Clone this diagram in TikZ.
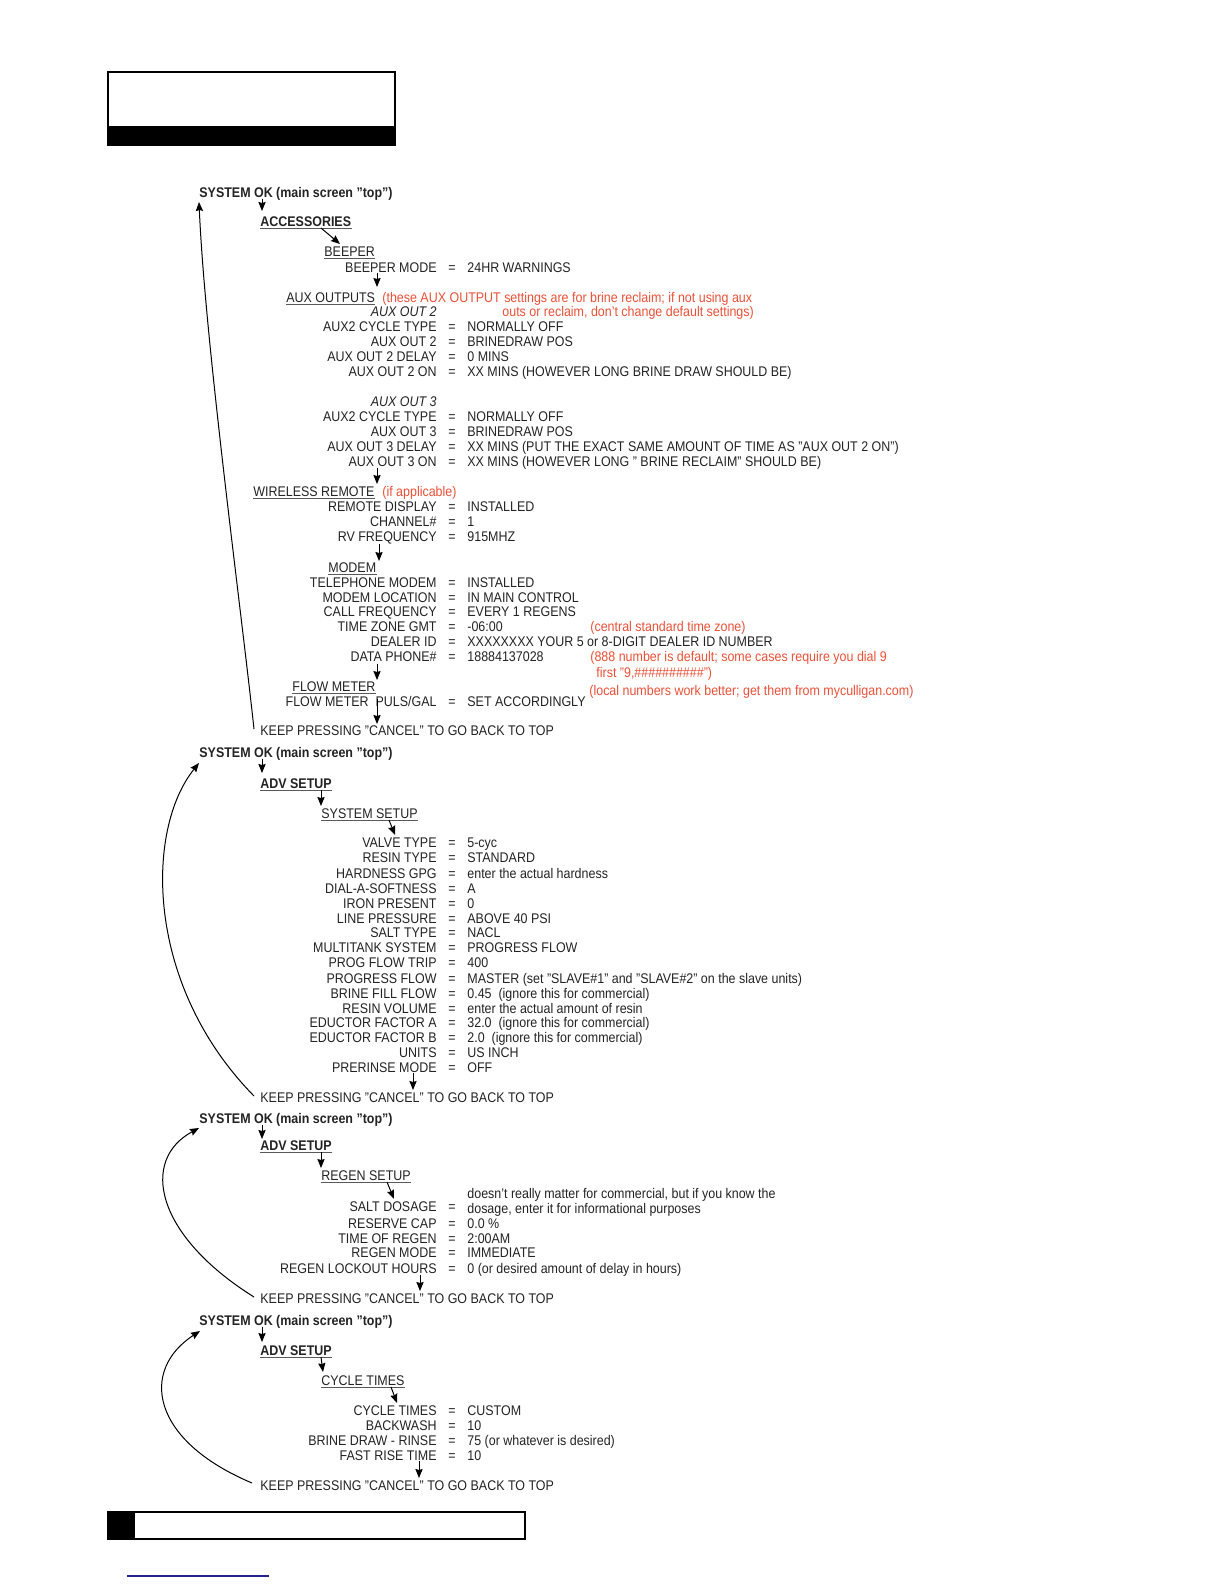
\documentclass[tikz,border=0pt]{standalone}
\usepackage{fontspec}
\setmainfont[FakeStretch=0.89]{Liberation Sans}
\usepackage{xcolor}
\usepackage{tikz}
\usetikzlibrary{arrows.meta}

\definecolor{txtgray}{RGB}{35,35,35}
\definecolor{notered}{RGB}{235,80,55}
\definecolor{linkblue}{RGB}{35,35,140}

% one settings line: label = value
\newcommand{\setrow}[4]{%
  \node[lbl] (#1l) at (437,#2) {#3};
  \node[eqs] (#1e) at (452,#2) {=};
  \node[val] (#1v) at (467,#2) {#4};}

\begin{document}
\begin{tikzpicture}[x=0.5pt, y=-0.5pt,
    every node/.style={font=\fontsize{7}{8}\selectfont, text=txtgray, inner sep=0pt},
    lbl/.style={anchor=base east},
    eqs/.style={anchor=base},
    val/.style={anchor=base west},
    head/.style={anchor=base west},
    note/.style={anchor=base west, text=notered},
    ulhead/.style={head, append after command={
      \pgfextra{\let\ulnode=\tikzlastnode}
      ([yshift=-1.3pt]\ulnode.base west) edge[draw=black!65, line width=0.6pt] ([yshift=-1.3pt]\ulnode.base east)}},
    arr/.style={->, >={Stealth[length=4.5pt, width=3.6pt, inset=0.5pt]}, line width=0.5pt}]
  \useasboundingbox (0,0) rectangle (1224,1584);

  % page header and footer
  \draw[line width=0.8pt] (108,72) rectangle (395,145);
  \fill (108,126) rectangle (395,145);
  \draw[line width=0.6pt] (108,1512) rectangle (525,1539);
  \fill (108,1512) rectangle (135,1539);
  \draw[linkblue, line width=0.6pt] (127,1576) -- (269,1576);

  % accessories
  \node[head, font=\fontsize{7}{8}\selectfont\bfseries] (sysA) at (199,197) {SYSTEM OK (main screen "top")};
  \node[ulhead, font=\fontsize{7}{8}\selectfont\bfseries] (accA) at (260,226) {ACCESSORIES};
  \node[ulhead] (beep) at (324,256) {BEEPER};
  \setrow{bmode}{272}{BEEPER MODE}{24HR WARNINGS}
  \node[ulhead] (auxo) at (286,302) {AUX OUTPUTS};
  \node[note] (auxnoteA) at (382,302) {(these AUX OUTPUT settings are for brine reclaim; if not using aux};
  \node[note] (auxnoteB) at (502,316) {outs or reclaim, don't change default settings)};
  \node[lbl, font=\fontsize{7}{8}\selectfont\itshape] (auxtwo) at (437,316) {AUX OUT 2};
  \setrow{axcta}{331}{AUX2 CYCLE TYPE}{NORMALLY OFF}
  \setrow{axoa}{346}{AUX OUT 2}{BRINEDRAW POS}
  \setrow{axda}{361}{AUX OUT 2 DELAY}{0 MINS}
  \setrow{axona}{376}{AUX OUT 2 ON}{XX MINS (HOWEVER LONG BRINE DRAW SHOULD BE)}
  \node[lbl, font=\fontsize{7}{8}\selectfont\itshape] (auxthree) at (437,406) {AUX OUT 3};
  \setrow{axctb}{421}{AUX2 CYCLE TYPE}{NORMALLY OFF}
  \setrow{axob}{436}{AUX OUT 3}{BRINEDRAW POS}
  \setrow{axdb}{451}{AUX OUT 3 DELAY}{XX MINS (PUT THE EXACT SAME AMOUNT OF TIME AS "AUX OUT 2 ON")}
  \setrow{axonb}{466}{AUX OUT 3 ON}{XX MINS (HOWEVER LONG " BRINE RECLAIM" SHOULD BE)}
  \node[ulhead] (wrl) at (253,496) {WIRELESS REMOTE};
  \node[note] (wrlnote) at (382,496) {(if applicable)};
  \setrow{rdisp}{511}{REMOTE DISPLAY}{INSTALLED}
  \setrow{chan}{526}{CHANNEL\#}{1}
  \setrow{rvf}{541}{RV FREQUENCY}{915MHZ}
  \node[ulhead] (modem) at (328,572) {MODEM};
  \setrow{tmod}{587}{TELEPHONE MODEM}{INSTALLED}
  \setrow{mloc}{602}{MODEM LOCATION}{IN MAIN CONTROL}
  \setrow{cfreq}{616}{CALL FREQUENCY}{EVERY 1 REGENS}
  \setrow{tzone}{631}{TIME ZONE GMT}{-06:00}
  \node[note] (tznote) at (590,631) {(central standard time zone)};
  \setrow{dealer}{646}{DEALER ID}{XXXXXXXX YOUR 5 or 8-DIGIT DEALER ID NUMBER}
  \setrow{dphone}{661}{DATA PHONE\#}{18884137028}
  \node[note] (dpnoteA) at (590,661) {(888 number is default; some cases require you dial 9};
  \node[note] (dpnoteB) at (596,677) {first "9,\#\#\#\#\#\#\#\#\#\#")};
  \node[ulhead] (flowh) at (292,691) {FLOW METER};
  \node[note] (localnote) at (589,695) {(local numbers work better; get them from myculligan.com)};
  \setrow{puls}{706}{FLOW METER\ \ PULS/GAL}{SET ACCORDINGLY}
  \node[head] (keepA) at (260,735) {KEEP PRESSING "CANCEL" TO GO BACK TO TOP};

  \draw[arr] ([shift={(63,2)}]sysA.base west) -- ([shift={(2,-15)}]accA.base west);
  \draw[arr] ([shift={(61,2)}]accA.base west) -- ([shift={(16,-12)}]beep.base west);
  \draw[arr] ([shift={(-60,1)}]bmodel.base east) -- ([shift={(91,-15)}]auxo.base west);
  \draw[arr] ([shift={(-60,2)}]axonbl.base east) -- ([shift={(124,-12)}]wrl.base west);
  \draw[arr] ([shift={(-58,3)}]rvfl.base east) -- ([shift={(51,-11)}]modem.base west);
  \draw[arr] ([shift={(-60,3)}]dphonel.base east) -- ([shift={(85,-11)}]flowh.base west);
  \draw[arr] ([shift={(-60,-7)}]pulsl.base east) -- ([shift={(117,-11)}]keepA.base west);
  \draw[arr] ([shift={(-6,-6)}]keepA.base west) .. controls (240,600) and (205,340) .. ([shift={(0,5)}]sysA.base west);

  % advanced setup: system setup
  \node[head, font=\fontsize{7}{8}\selectfont\bfseries] (sysB) at (199,757) {SYSTEM OK (main screen "top")};
  \node[ulhead, font=\fontsize{7}{8}\selectfont\bfseries] (advB) at (260,788) {ADV SETUP};
  \node[ulhead] (syss) at (321,818) {SYSTEM SETUP};
  \setrow{valve}{847}{VALVE TYPE}{5-cyc}
  \setrow{rtype}{862}{RESIN TYPE}{STANDARD}
  \setrow{hard}{878}{HARDNESS GPG}{enter the actual hardness}
  \setrow{dial}{893}{DIAL-A-SOFTNESS}{A}
  \setrow{iron}{908}{IRON PRESENT}{0}
  \setrow{lpres}{923}{LINE PRESSURE}{ABOVE 40 PSI}
  \setrow{stype}{937}{SALT TYPE}{NACL}
  \setrow{multi}{952}{MULTITANK SYSTEM}{PROGRESS FLOW}
  \setrow{pftrip}{967}{PROG FLOW TRIP}{400}
  \setrow{pflow}{983}{PROGRESS FLOW}{MASTER (set "SLAVE\#1" and "SLAVE\#2" on the slave units)}
  \setrow{bfill}{998}{BRINE FILL FLOW}{0.45\ \ (ignore this for commercial)}
  \setrow{rvol}{1013}{RESIN VOLUME}{enter the actual amount of resin}
  \setrow{educa}{1027}{EDUCTOR FACTOR A}{32.0\ \ (ignore this for commercial)}
  \setrow{educb}{1042}{EDUCTOR FACTOR B}{2.0\ \ (ignore this for commercial)}
  \setrow{units}{1057}{UNITS}{US INCH}
  \setrow{prerinse}{1072}{PRERINSE MODE}{OFF}
  \node[head] (keepB) at (260,1102) {KEEP PRESSING "CANCEL" TO GO BACK TO TOP};

  \draw[arr] ([shift={(63,2)}]sysB.base west) -- ([shift={(2,-15)}]advB.base west);
  \draw[arr] ([shift={(61,2)}]advB.base west) -- ([shift={(0,-12)}]syss.base west);
  \draw[arr] ([shift={(68,2)}]syss.base west) -- ([shift={(-42,-12)}]valvel.base east);
  \draw[arr] ([shift={(-24,1)}]prerinsel.base east) -- ([shift={(153,-12)}]keepB.base west);
  \draw[arr] ([shift={(-6,-6)}]keepB.base west) .. controls (145,985) and (145,830) .. ([shift={(0,6)}]sysB.base west);

  % advanced setup: regen setup
  \node[head, font=\fontsize{7}{8}\selectfont\bfseries] (sysC) at (199,1123) {SYSTEM OK (main screen "top")};
  \node[ulhead, font=\fontsize{7}{8}\selectfont\bfseries] (advC) at (260,1150) {ADV SETUP};
  \node[ulhead] (regs) at (321,1180) {REGEN SETUP};
  \node[lbl] (sdosl) at (437,1211) {SALT DOSAGE};
  \node[eqs] (sdose) at (452,1211) {=};
  \node[val] (sdosva) at (467,1198) {doesn't really matter for commercial, but if you know the};
  \node[val] (sdosvb) at (467,1213) {dosage, enter it for informational purposes};
  \setrow{rcap}{1228}{RESERVE CAP}{0.0 \%}
  \setrow{treg}{1243}{TIME OF REGEN}{2:00AM}
  \setrow{rmode}{1257}{REGEN MODE}{IMMEDIATE}
  \setrow{lock}{1273}{REGEN LOCKOUT HOURS}{0 (or desired amount of delay in hours)}
  \node[head] (keepC) at (260,1303) {KEEP PRESSING "CANCEL" TO GO BACK TO TOP};

  \draw[arr] ([shift={(63,2)}]sysC.base west) -- ([shift={(2,-11)}]advC.base west);
  \draw[arr] ([shift={(61,2)}]advC.base west) -- ([shift={(0,-12)}]regs.base west);
  \draw[arr] ([shift={(66,2)}]regs.base west) -- ([shift={(-43,-12)}]sdosl.base east);
  \draw[arr] ([shift={(-17,2)}]lockl.base east) -- ([shift={(160,-12)}]keepC.base west);
  \draw[arr] ([shift={(-6,-6)}]keepC.base west) .. controls (155,1235) and (140,1160) .. ([shift={(0,5)}]sysC.base west);

  % advanced setup: cycle times
  \node[head, font=\fontsize{7}{8}\selectfont\bfseries] (sysD) at (199,1325) {SYSTEM OK (main screen "top")};
  \node[ulhead, font=\fontsize{7}{8}\selectfont\bfseries] (advD) at (260,1355) {ADV SETUP};
  \node[ulhead] (cyct) at (321,1385) {CYCLE TIMES};
  \setrow{ctimes}{1415}{CYCLE TIMES}{CUSTOM}
  \setrow{bwash}{1430}{BACKWASH}{10}
  \setrow{bdraw}{1445}{BRINE DRAW - RINSE}{75 (or whatever is desired)}
  \setrow{frise}{1460}{FAST RISE TIME}{10}
  \node[head] (keepD) at (260,1490) {KEEP PRESSING "CANCEL" TO GO BACK TO TOP};

  \draw[arr] ([shift={(63,2)}]sysD.base west) -- ([shift={(2,-13)}]advD.base west);
  \draw[arr] ([shift={(61,2)}]advD.base west) -- ([shift={(2,-13)}]cyct.base west);
  \draw[arr] ([shift={(70,2)}]cyct.base west) -- ([shift={(-40,-12)}]ctimesl.base east);
  \draw[arr] ([shift={(-18,1)}]frisel.base east) -- ([shift={(159,-12)}]keepD.base west);
  \draw[arr] ([shift={(-8,-7)}]keepD.base west) .. controls (150,1440) and (140,1370) .. ([shift={(1,6)}]sysD.base west);
\end{tikzpicture}
\end{document}
